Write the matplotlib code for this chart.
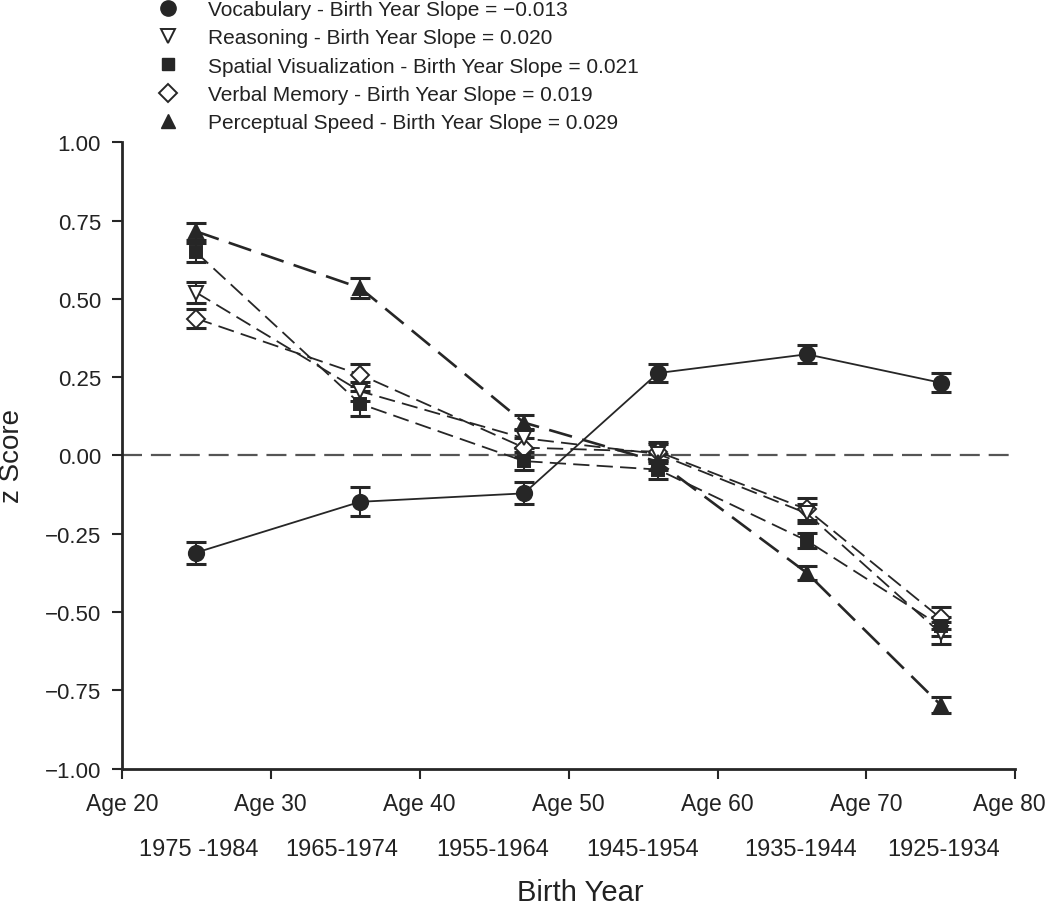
import matplotlib
matplotlib.use("Agg")
import matplotlib.pyplot as plt
from matplotlib.lines import Line2D
from matplotlib.ticker import FuncFormatter
from matplotlib.transforms import ScaledTranslation

plt.rcParams['font.family'] = ['Liberation Sans', 'DejaVu Sans']

# ---- data ----
ages = [25, 36, 47, 56, 66, 75]
age_ticks = [20, 30, 40, 50, 60, 70, 80]
age_tick_labels = ["Age 20", "Age 30", "Age 40", "Age 50", "Age 60", "Age 70", "Age 80"]
birth_labels = ["1975 -1984", "1965-1974", "1955-1964", "1945-1954", "1935-1944", "1925-1934"]

vocab = [-0.310, -0.148, -0.121, 0.263, 0.323, 0.232]
vocab_err = [0.035, 0.046, 0.035, 0.028, 0.028, 0.030]
reasoning = [0.520, 0.205, 0.055, 0.005, -0.185, -0.568]
reasoning_err = [0.033, 0.030, 0.030, 0.030, 0.030, 0.035]
spatial = [0.648, 0.165, -0.018, -0.045, -0.272, -0.545]
spatial_err = [0.030, 0.040, 0.030, 0.030, 0.025, 0.030]
verbal = [0.437, 0.258, 0.025, 0.012, -0.172, -0.520]
verbal_err = [0.030, 0.035, 0.030, 0.030, 0.035, 0.035]
percept = [0.715, 0.535, 0.105, -0.020, -0.375, -0.797]
percept_err = [0.027, 0.032, 0.025, 0.025, 0.022, 0.025]

legend_labels = [
    "Vocabulary - Birth Year Slope = \u22120.013",
    "Reasoning - Birth Year Slope = 0.020",
    "Spatial Visualization - Birth Year Slope = 0.021",
    "Verbal Memory - Birth Year Slope = 0.019",
    "Perceptual Speed - Birth Year Slope = 0.029",
]

# ---- layout (label positions for birth-year row) ----
birth_label_x = [25.2, 34.8, 44.9, 55.0, 65.6, 75.2]

C = "#262626"
TC = "#222222"
fig = plt.figure(figsize=(10.5, 9.12), dpi=100)
ax = fig.add_axes([0.116, 0.156, 0.851, 0.687])

ax.axhline(0, color="#555555", lw=1.6, dashes=(9, 4), zorder=1)

series = [
    (verbal, verbal_err, 'D', 'white', (9, 4), 1.3, 9),
    (reasoning, reasoning_err, 'v', 'white', (9, 4), 1.3, 10),
    (spatial, spatial_err, 's', C, (9, 4), 1.3, 9),
    (percept, percept_err, '^', C, (9, 4), 1.9, 10),
    (vocab, vocab_err, 'o', C, None, 1.3, 11),
]
for vals, err, m, fc, dash, lw, ms in series:
    ax.errorbar(ages, vals, yerr=err, fmt='none', ecolor=C, elinewidth=1.5,
                capsize=7, capthick=2.2, zorder=3)
    kw = dict(color=C, lw=lw, zorder=2)
    if dash is not None:
        kw['dashes'] = dash
    ax.plot(ages, vals, **kw)
    ax.plot(ages, vals, linestyle='none', marker=m, markersize=ms,
            markerfacecolor=fc, markeredgecolor=C, markeredgewidth=1.4, zorder=4)

ax.set_xlim(20, 80)
ax.set_ylim(-1.0, 1.0)
ax.set_xticks(age_ticks)
ax.set_xticklabels(age_tick_labels)
ax.set_yticks([-1.0, -0.75, -0.5, -0.25, 0, 0.25, 0.5, 0.75, 1.0])
ax.yaxis.set_major_formatter(FuncFormatter(lambda v, p: ("%.2f" % v).replace("-", "\u2212")))
for s in ['top', 'right']:
    ax.spines[s].set_visible(False)
for s in ['left', 'bottom']:
    ax.spines[s].set_linewidth(2.0)
    ax.spines[s].set_color(C)
ax.tick_params(direction='out', length=7, width=1.5, colors=C, labelcolor=TC)
ax.tick_params(axis='x', labelsize=16.5, pad=10)
ax.tick_params(axis='y', labelsize=16, pad=8)

last = ax.get_xticklabels()[-1]
last.set_transform(last.get_transform() + ScaledTranslation(-6 / 100, 0, fig.dpi_scale_trans))

for xp, lab in zip(birth_label_x, birth_labels):
    ax.text(xp, -0.1276, lab, transform=ax.get_xaxis_transform(), ha='center',
            va='center', fontsize=17, color=TC)

ax.set_xlabel("Birth Year", fontsize=21, color=TC)
ax.xaxis.set_label_coords(0.513, -0.175)
ax.set_ylabel("z Score", fontsize=20, labelpad=14, color=TC)

handles = [
    Line2D([], [], linestyle='none', marker='o', markersize=11, markerfacecolor=C, markeredgecolor=C),
    Line2D([], [], linestyle='none', marker='v', markersize=10, markerfacecolor='white', markeredgecolor=C, markeredgewidth=1.4),
    Line2D([], [], linestyle='none', marker='s', markersize=9, markerfacecolor=C, markeredgecolor=C),
    Line2D([], [], linestyle='none', marker='D', markersize=9, markerfacecolor='white', markeredgecolor=C, markeredgewidth=1.4),
    Line2D([], [], linestyle='none', marker='^', markersize=10, markerfacecolor=C, markeredgecolor=C),
]
fig.legend(handles, legend_labels, loc='upper left', bbox_to_anchor=(0.148, 0.999),
           frameon=False, fontsize=15, labelspacing=0.45, handletextpad=1.32,
           handlelength=1.2, borderaxespad=0, borderpad=0, labelcolor=TC)

fig.savefig("out.png", dpi=100)
